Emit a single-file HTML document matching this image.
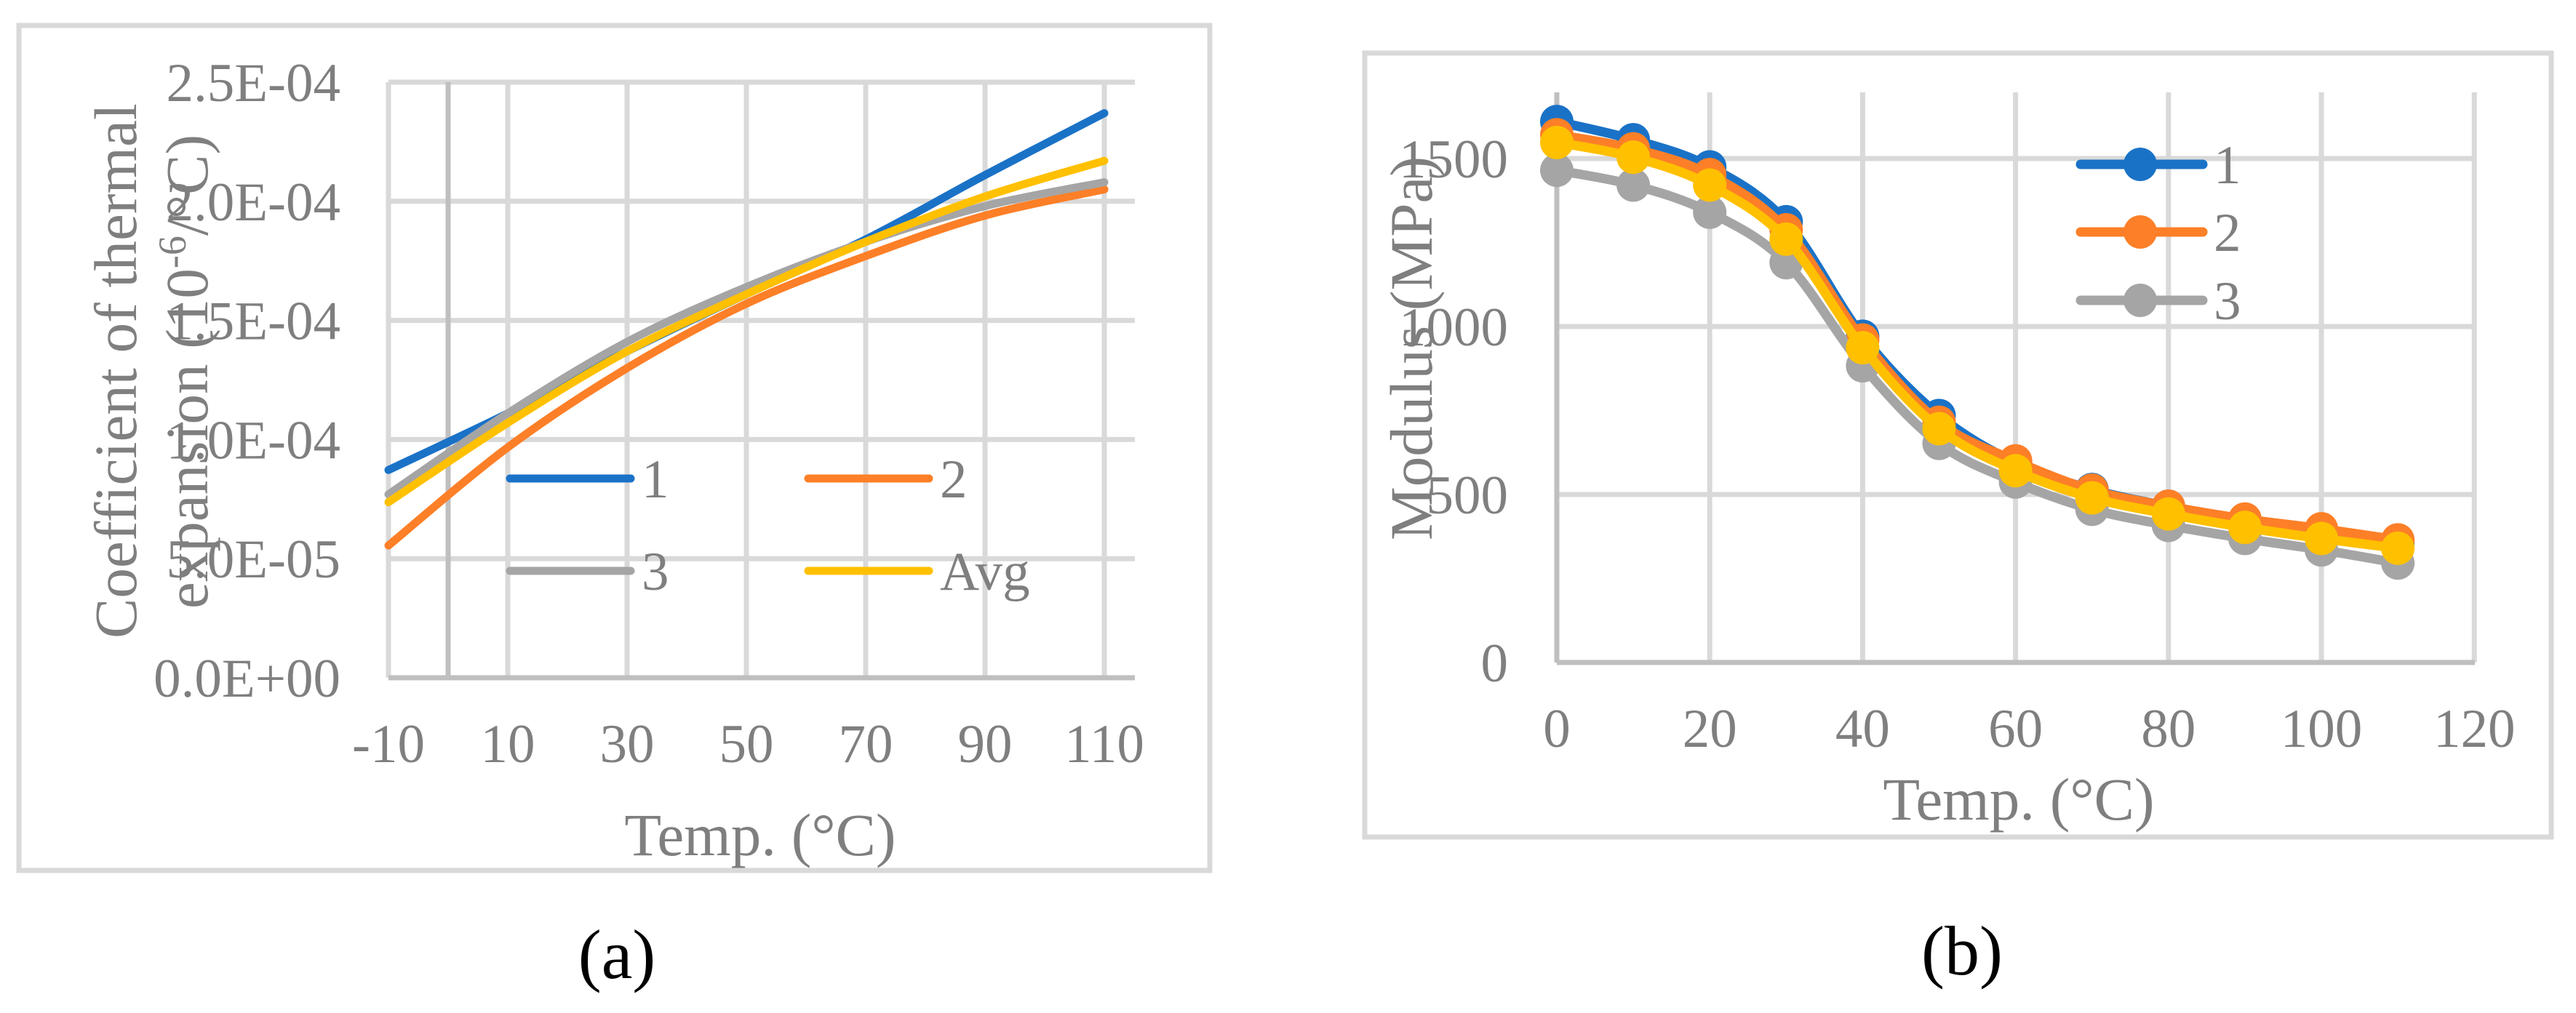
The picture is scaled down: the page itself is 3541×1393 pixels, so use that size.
<!DOCTYPE html>
<html><head><meta charset="utf-8"><style>
html,body{margin:0;padding:0;background:#fff;}
svg, svg text{font-family:"Liberation Serif","Times New Roman",Times,serif;}
</style></head><body>
<svg id="fig" width="3541" height="1388" viewBox="0 0 3541 1388" xmlns="http://www.w3.org/2000/svg" font-family="Liberation Serif, Times New Roman, serif">
<rect x="0" y="0" width="3541" height="1388" fill="#fff"/>
<!-- Panel a -->
<g id="pa">
<rect x="26" y="35" width="1637" height="1162" fill="none" stroke="#d9d9d9" stroke-width="7"/>
<g id="pa-grid"></g>
<g id="pa-lines"></g>
<g id="pa-ticks" fill="#7f7f7f" font-size="75"></g>
<text x="187" y="510" transform="rotate(-90 187 510)" text-anchor="middle" fill="#7f7f7f" font-size="83">Coefficient of thermal</text>
<text x="285" y="511" transform="rotate(-90 285 511)" text-anchor="middle" fill="#7f7f7f" font-size="83">expansion (10<tspan font-size="54" dy="-30">-6</tspan><tspan dy="30">/°C)</tspan></text>
<text x="1045" y="1176" text-anchor="middle" fill="#7f7f7f" font-size="83">Temp. (°C)</text>
<g id="pa-legend" font-size="75" fill="#7f7f7f"></g>
<text x="848" y="1345" text-anchor="middle" fill="#000" font-size="96">(a)</text>
</g>
<!-- Panel b -->
<g id="pb">
<rect x="1876" y="73" width="1631" height="1078" fill="none" stroke="#d9d9d9" stroke-width="7"/>
<g id="pb-grid"></g>
<g id="pb-lines"></g>
<g id="pb-ticks" fill="#7f7f7f" font-size="75"></g>
<text x="1968" y="479" transform="rotate(-90 1968 479)" text-anchor="middle" fill="#7f7f7f" font-size="83">Modulus (MPa)</text>
<text x="2775" y="1127" text-anchor="middle" fill="#7f7f7f" font-size="83">Temp. (°C)</text>
<g id="pb-legend" font-size="75" fill="#7f7f7f"></g>
<text x="2697" y="1340" text-anchor="middle" fill="#000" font-size="96">(b)</text>
</g>
</svg>
<script>
// ---- Chart (a) data ----
const aTemps = [-10, 10, 30, 50, 70, 90, 110];
const aSeries1 = [8.72e-5, 1.11e-4, 1.37e-4, 1.61e-4, 1.84e-4, 2.11e-4, 2.37e-4];
const aSeries2 = [5.55e-5, 9.67e-5, 1.30e-4, 1.57e-4, 1.77e-4, 1.94e-4, 2.05e-4];
const aSeries3 = [7.7e-5, 1.11e-4, 1.41e-4, 1.64e-4, 1.83e-4, 1.98e-4, 2.08e-4];
const aSeriesAvg = [7.37e-5, 1.07e-4, 1.37e-4, 1.61e-4, 1.83e-4, 2.02e-4, 2.17e-4];
const aYTicks = [0, 5e-5, 1e-4, 1.5e-4, 2e-4, 2.5e-4];
const aYTickLabels = ["0.0E+00", "5.0E-05", "1.0E-04", "1.5E-04", "2.0E-04", "2.5E-04"];
const aXTicks = [-10, 10, 30, 50, 70, 90, 110];
// ---- Chart (b) data ----
const bTemps = [0, 10, 20, 30, 40, 50, 60, 70, 80, 90, 100, 110];
const bSeries1 = [1610, 1556, 1475, 1312, 971, 735, 595, 515, 465, 424, 390, 356];
const bSeries2 = [1571, 1529, 1452, 1288, 960, 715, 600, 513, 465, 427, 398, 365];
const bSeries3 = [1465, 1421, 1340, 1190, 883, 652, 537, 456, 408, 369, 335, 296];
const bSeriesAvg = [1548, 1504, 1421, 1260, 937, 696, 571, 490, 442, 402, 369, 340];
const bYTicks = [0, 500, 1000, 1500];
const bXTicks = [0, 20, 40, 60, 80, 100, 120];

const NS = "http://www.w3.org/2000/svg";
function mk(tag, attrs, parent) {
  const e = document.createElementNS(NS, tag);
  for (const k in attrs) e.setAttribute(k, attrs[k]);
  parent.appendChild(e);
  return e;
}
function smoothPath(pts) {
  let d = "M" + pts[0][0] + "," + pts[0][1];
  for (let i = 0; i < pts.length - 1; i++) {
    const p0 = pts[Math.max(0, i - 1)], p1 = pts[i], p2 = pts[i + 1], p3 = pts[Math.min(pts.length - 1, i + 2)];
    const c1x = p1[0] + (p2[0] - p0[0]) / 6, c1y = p1[1] + (p2[1] - p0[1]) / 6;
    const c2x = p2[0] - (p3[0] - p1[0]) / 6, c2y = p2[1] - (p3[1] - p1[1]) / 6;
    d += " C" + c1x + "," + c1y + " " + c2x + "," + c2y + " " + p2[0] + "," + p2[1];
  }
  return d;
}
const colors = {s1: "#1a72c7", s2: "#fd7f27", s3: "#a5a5a5", avg: "#ffc000"};

// ---- Chart (a) ----
(function () {
  const ax = v => 534 + (v + 10) * 8.2;
  const ay = v => 932 - v / 2.5e-4 * 819;
  const grid = document.getElementById("pa-grid");
  aYTicks.forEach((t, i) => {
    if (i === 0) return;
    const l = mk("line", {x1: 534, x2: 1560, y1: ay(t), y2: ay(t), stroke: "#d9d9d9", "stroke-width": 7}, grid);
    
    
  });
  aXTicks.forEach(t => {
    const l = mk("line", {x1: ax(t), x2: ax(t), y1: 113, y2: 932, stroke: "#d9d9d9", "stroke-width": 7}, grid);
    
    
  });
  const yaxis = mk("line", {x1: ax(0), x2: ax(0), y1: 113, y2: 932, stroke: "#bfbfbf", "stroke-width": 7}, grid);
  
  
  const xaxis = mk("line", {x1: 534, x2: 1560, y1: 932, y2: 932, stroke: "#bfbfbf", "stroke-width": 7}, grid);
  
  

  const lines = document.getElementById("pa-lines");
  [["s1", aSeries1], ["s2", aSeries2], ["s3", aSeries3], ["avg", aSeriesAvg]].forEach(([k, arr]) => {
    const pts = aTemps.map((t, i) => [ax(t), ay(arr[i])]);
    const p = mk("path", {d: smoothPath(pts), fill: "none", stroke: colors[k], "stroke-width": 11, "stroke-linecap": "round"}, lines);
    
    
  });

  const ticks = document.getElementById("pa-ticks");
  aYTicks.forEach((t, i) => {
    const tx = mk("text", {x: 468, y: ay(t) + 26, "text-anchor": "end"}, ticks);
    tx.textContent = aYTickLabels[i];
    
    
  });
  aXTicks.forEach(t => {
    const tx = mk("text", {x: ax(t), y: 1048, "text-anchor": "middle"}, ticks);
    tx.textContent = String(t);
    
    
  });

  const leg = document.getElementById("pa-legend");
  [["s1", "1", 701, 658], ["s2", "2", 1111, 658], ["s3", "3", 701, 785], ["avg", "Avg", 1111, 785]].forEach(([k, lab, x, y]) => {
    const l = mk("line", {x1: x, x2: x + 166, y1: y, y2: y, stroke: colors[k], "stroke-width": 11, "stroke-linecap": "round"}, leg);
    
    
    const tx = mk("text", {x: x + 181, y: y + 26}, leg);
    tx.textContent = lab;
    
    
  });
})();

// ---- Chart (b) ----
(function () {
  const bx = v => 2140 + v * 10.51;
  const by = v => 911 - v / 500 * 231;
  const grid = document.getElementById("pb-grid");
  bYTicks.forEach((t, i) => {
    if (i === 0) return;
    const l = mk("line", {x1: 2140, x2: 3402, y1: by(t), y2: by(t), stroke: "#d9d9d9", "stroke-width": 7}, grid);
    
    
  });
  bXTicks.forEach((t, i) => {
    if (i === 0) return;
    const l = mk("line", {x1: bx(t), x2: bx(t), y1: 127, y2: 911, stroke: "#d9d9d9", "stroke-width": 7}, grid);
    
    
  });
  const yaxis = mk("line", {x1: 2140, x2: 2140, y1: 127, y2: 911, stroke: "#bfbfbf", "stroke-width": 7}, grid);
  
  
  const xaxis = mk("line", {x1: 2140, x2: 3402, y1: 911, y2: 911, stroke: "#bfbfbf", "stroke-width": 7}, grid);
  
  

  const lines = document.getElementById("pb-lines");
  [["s1", bSeries1], ["s2", bSeries2], ["s3", bSeries3], ["avg", bSeriesAvg]].forEach(([k, arr]) => {
    const g = mk("g", {}, lines);
    
    
    const pts = bTemps.map((t, i) => [bx(t), by(arr[i])]);
    const p = mk("path", {d: smoothPath(pts), fill: "none", stroke: colors[k], "stroke-width": 13, "stroke-linecap": "round"}, g);
    
    
    pts.forEach(pt => {
      const c = mk("circle", {cx: pt[0], cy: pt[1], r: 23, fill: colors[k]}, g);
      
      
    });
  });

  const ticks = document.getElementById("pb-ticks");
  bYTicks.forEach(t => {
    const tx = mk("text", {x: 2073, y: by(t) + 26, "text-anchor": "end"}, ticks);
    tx.textContent = String(t);
    
    
  });
  bXTicks.forEach(t => {
    const tx = mk("text", {x: bx(t), y: 1027, "text-anchor": "middle"}, ticks);
    tx.textContent = String(t);
    
    
  });

  const leg = document.getElementById("pb-legend");
  [["s1", "1", 226], ["s2", "2", 319], ["s3", "3", 413]].forEach(([k, lab, y]) => {
    const l = mk("line", {x1: 2860, x2: 3028, y1: y, y2: y, stroke: colors[k], "stroke-width": 13, "stroke-linecap": "round"}, leg);
    
    
    const c = mk("circle", {cx: 2942, cy: y, r: 23, fill: colors[k]}, leg);
    
    
    const tx = mk("text", {x: 3043, y: y + 26}, leg);
    tx.textContent = lab;
    
    
  });
})();
</script>
</body></html>
